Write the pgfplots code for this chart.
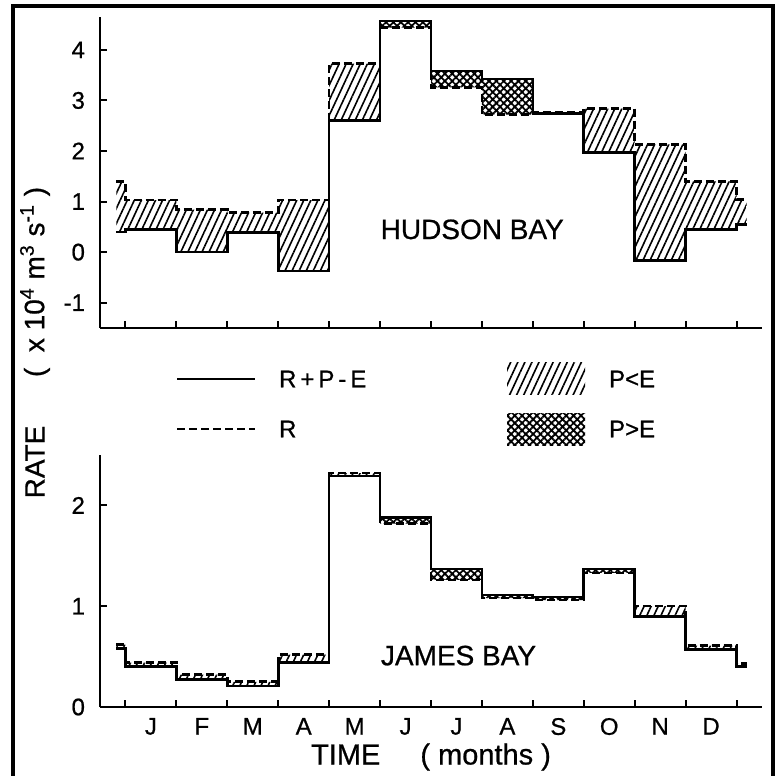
\documentclass[border=0pt]{standalone}
\usepackage{fontspec}
\setmainfont{Liberation Sans}[FakeBold=0.7]
\usepackage{pgfplots}
\usepackage{pgfplotstable}
\pgfplotsset{compat=1.18}
\usetikzlibrary{patterns.meta}

% s = R+P-E (solid), d = R (dashed); hl/hh bound the P<E band, cl/ch the P>E band
\pgfplotstableread{
x     s     d     hl    hh    cl    ch
-0.18 0.40  1.40  0.40  1.40  0.40  0.40
0     0.45  1.03  0.45  1.03  0.45  0.45
1     0.00  0.84  0.00  0.84  0.00  0.00
2     0.39  0.78  0.39  0.78  0.39  0.39
3    -0.37  1.03 -0.37  1.03 -0.37 -0.37
4     2.60  3.73  2.60  3.73  2.60  2.60
5     4.57  4.44  4.57  4.57  4.44  4.57
6     3.58  3.26  3.58  3.58  3.26  3.58
7     3.42  2.72  3.42  3.42  2.72  3.42
8     2.74  2.76  2.74  2.76  2.74  2.74
9     1.97  2.84  1.97  2.84  1.97  1.97
10   -0.17  2.13 -0.17  2.13 -0.17 -0.17
11    0.45  1.40  0.45  1.40  0.45  0.45
12    0.55  1.04  0.55  1.04  0.55  0.55
12.2  0.55  1.04  0.55  1.04  0.55  0.55
}\hudson

\pgfplotstableread{
x     s     d     hl    hh    cl    ch
-0.18 0.58  0.62  0.58  0.62  0.58  0.58
0     0.40  0.44  0.40  0.44  0.40  0.40
1     0.27  0.32  0.27  0.32  0.27  0.27
2     0.21  0.25  0.21  0.25  0.21  0.21
3     0.44  0.52  0.44  0.52  0.44  0.44
4     2.29  2.32  2.29  2.32  2.29  2.29
5     1.88  1.82  1.88  1.88  1.82  1.88
6     1.37  1.26  1.37  1.37  1.26  1.37
7     1.11  1.08  1.11  1.11  1.08  1.11
8     1.09  1.06  1.09  1.09  1.06  1.09
9     1.37  1.33  1.37  1.37  1.33  1.37
10    0.90  1.00  0.90  1.00  0.90  0.90
11    0.57  0.61  0.57  0.61  0.57  0.57
12    0.40  0.43  0.40  0.43  0.40  0.40
12.2  0.40  0.43  0.40  0.43  0.40  0.40
}\james

\tikzset{
  pless/.style={pattern={Lines[angle=65,distance=3.2pt,line width=0.8pt]}},
  pmore/.style={pattern={Hatch[angle=45,distance=2.6pt,line width=0.9pt]}},
  rline/.style={line width=1.3pt, dash pattern=on 4pt off 2pt},
}

\pgfplotsset{
  bay/.style={
    scale only axis, width=331pt,
    xmin=-0.5, xmax=12.5,
    axis x line=bottom, axis y line=left,
    axis line style={-, line width=1.1pt},
    tick align=inside, major tick length=3.5pt,
    tick style={line width=1pt, black},
    xtick={0,...,12}, xticklabels={},
    tick label style={font=\fontsize{12}{14}\selectfont},
    yticklabel style={xshift=-4pt},
    /pgf/number format/assume math mode=true,
  },
  overlay/.style={
    scale only axis, width=331pt, xmin=-0.5, xmax=12.5, hide axis,
  },
}

\begin{document}
\begin{tikzpicture}
\useasboundingbox (0,0) rectangle (387.5pt,388pt);
\draw[line width=2pt] (6.5pt,0) -- (6.5pt,385pt) -- (386.5pt,385pt) -- (386.5pt,0);

% Hudson Bay: bands stacked hl -> hh (P<E), then -> cl, -> ch (P>E)
\begin{axis}[bay, at={(50pt,224pt)}, anchor=south west, height=155.5pt,
  ymin=-1.5, ymax=4.65, ytick={-1,0,...,4}, stack plots=y]
\addplot[draw=none, const plot] table[x=x,y=hl]{\hudson};
\addplot[draw=none, const plot, pless] table[x=x,y expr=\thisrow{hh}-\thisrow{hl}]{\hudson} \closedcycle;
\addplot[draw=none, const plot] table[x=x,y expr=\thisrow{cl}-\thisrow{hh}]{\hudson};
\addplot[draw=none, const plot, pmore] table[x=x,y expr=\thisrow{ch}-\thisrow{cl}]{\hudson} \closedcycle;
\node[font=\fontsize{14}{16}\selectfont] at (axis cs:6.81,0.45) {HUDSON BAY};
\end{axis}
\begin{axis}[overlay, at={(50pt,224pt)}, anchor=south west, height=155.5pt,
  ymin=-1.5, ymax=4.65]
\addplot[rline, const plot] table[x=x,y=d]{\hudson};
\addplot[line width=1.3pt, const plot] table[x=x,y=s]{\hudson};
\end{axis}

% James Bay
\begin{axis}[bay, at={(50pt,34.5pt)}, anchor=south west, height=126pt,
  ymin=0, ymax=2.5, ytick={0,1,2}, stack plots=y,
  extra x ticks={0.5,1.5,...,11.5},
  extra x tick labels={J,F,M,A,M,J,J,A,S,O,N,D},
  extra x tick style={major tick length=0pt, xticklabel style={yshift=-2pt}}]
\addplot[draw=none, const plot] table[x=x,y=hl]{\james};
\addplot[draw=none, const plot, pless] table[x=x,y expr=\thisrow{hh}-\thisrow{hl}]{\james} \closedcycle;
\addplot[draw=none, const plot] table[x=x,y expr=\thisrow{cl}-\thisrow{hh}]{\james};
\addplot[draw=none, const plot, pmore] table[x=x,y expr=\thisrow{ch}-\thisrow{cl}]{\james} \closedcycle;
\node[font=\fontsize{14}{16}\selectfont] at (axis cs:6.54,0.51) {JAMES BAY};
\end{axis}
\begin{axis}[overlay, at={(50pt,34.5pt)}, anchor=south west, height=126pt,
  ymin=0, ymax=2.5]
\addplot[rline, const plot] table[x=x,y=d]{\james};
\addplot[line width=1.3pt, const plot] table[x=x,y=s]{\james};
\end{axis}

% legend
\draw[line width=1.3pt] (88.5pt,198.5pt) -- (127.5pt,198.5pt);
\node[anchor=west, font=\fontsize{12}{14}\selectfont] at (136pt,198.5pt) {R\,+\,P\,-\,E};
\draw[rline] (88.5pt,173.5pt) -- (127.5pt,173.5pt);
\node[anchor=west, font=\fontsize{12}{14}\selectfont] at (136pt,173.5pt) {R};
\fill[pless] (253.5pt,190.5pt) rectangle (292.5pt,206.5pt);
\node[anchor=west, font=\fontsize{12}{14}\selectfont] at (301pt,198.5pt) {P<E};
\fill[pmore] (253.5pt,165pt) rectangle (292.5pt,181pt);
\node[anchor=west, font=\fontsize{12}{14}\selectfont] at (301pt,173.5pt) {P>E};

% axis titles
\node[font=\fontsize{14.5}{16}\selectfont] at (215.5pt,9.5pt) {TIME\hspace{20pt}( months )};
\node[rotate=90, font=\fontsize{14}{16}\selectfont] at (17.5pt,157pt) {RATE};
\node[rotate=90, font=\fontsize{14}{16}\selectfont] at (17.5pt,247pt) {(\ \ x\ 10\textsuperscript{4}\ m\textsuperscript{3}\ s\textsuperscript{-1}\ )};
\end{tikzpicture}
\end{document}
